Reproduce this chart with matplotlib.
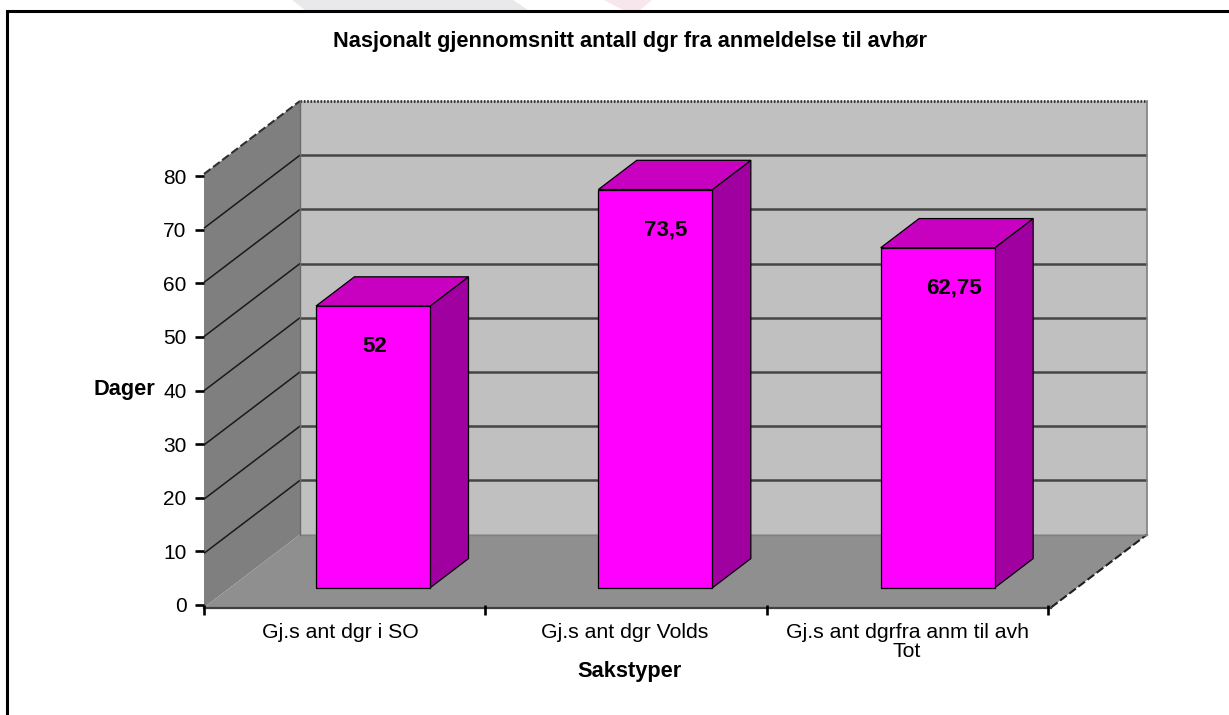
import matplotlib
matplotlib.use("Agg")
import matplotlib.pyplot as plt
from matplotlib.patches import Polygon
from matplotlib.lines import Line2D

plt.rcParams['font.family'] = ['Liberation Sans', 'DejaVu Sans']

title = "Nasjonalt gjennomsnitt antall dgr fra anmeldelse til avhør"
categories = ["Gj.s ant dgr i SO", "Gj.s ant dgr Volds", "Gj.s ant dgrfra anm til avh\nTot"]
values = [52, 73.5, 62.75]
yticks = [0, 10, 20, 30, 40, 50, 60, 70, 80]
ylabel = "Dager"
xlabel = "Sakstyper"

W, H = 1229, 715
# front plane of the fake 3d box in pixels
left, right, y0, y80 = 204, 1051, 607.5, 174
# depth of the box, in data units
depth_x = 96 / ((right - left) / 3)
depth_y = 73 / ((y0 - y80) / 80)
floor = 0
bar_width = 0.404
bar_shift = 0.007
bar_near, bar_far = 0.27, 0.67


def fx(px):
    return px / W


def fy(py):
    return 1 - py / H


def proj(x, v, d):
    # d = 0 at the front of the box, 1 at the back wall
    return (x + d * depth_x, v + floor + d * depth_y)


def face(ax, pts, color, z, edge="none", lw=0):
    ax.add_patch(Polygon(pts, closed=True, facecolor=color, edgecolor=edge, linewidth=lw,
                         zorder=z, clip_on=False, joinstyle="miter"))


fig = plt.figure(figsize=(W / 100, H / 100), dpi=100)

# pale shapes from the page behind the chart
fig.add_artist(Polygon([(fx(292), fy(0)), (fx(513), fy(0)), (fx(528), fy(10)), (fx(305), fy(10))],
                       closed=True, transform=fig.transFigure, facecolor="#e9e9eb", edgecolor="none"))
fig.add_artist(Polygon([(fx(604), fy(0)), (fx(652), fy(0)), (fx(640), fy(10)), (fx(623), fy(10))],
                       closed=True, transform=fig.transFigure, facecolor="#f7e6ec", edgecolor="none"))

# frame, only left and top
fig.add_artist(Line2D([fx(7), fx(7), fx(W)], [fy(H), fy(10.5), fy(10.5)], transform=fig.transFigure,
                      color="black", linewidth=2.2, solid_joinstyle="miter"))

ax = fig.add_axes([fx(left), fy(y0), fx(right - left), (y0 - y80) / H])
ax.set_xlim(0, 3)
ax.set_ylim(0, 80)
ax.patch.set_visible(False)

# walls and floor
top = yticks[-1]
face(ax, [proj(0, 0, 1), proj(3, 0, 1), proj(3, top, 1), proj(0, top, 1)], "#c0c0c0", 1)
face(ax, [proj(0, 0, 0), proj(0, 0, 1), proj(0, top, 1), proj(0, top, 0)], "#7f7f7f", 1)
face(ax, [proj(0, 0, 0), proj(3, 0, 0), proj(3, 0, 1), proj(0, 0, 1)], "#8f8f8f", 1)

# gridlines
for v in yticks[1:-1]:
    ax.plot(*zip(proj(0, v, 1), proj(3, v, 1)), color="#454545", lw=1.8, zorder=2, clip_on=False,
            solid_capstyle="butt")
    ax.plot(*zip(proj(0, v, 0), proj(0, v, 1)), color="#1a1a1a", lw=1.1, zorder=2, clip_on=False,
            solid_capstyle="butt")

# box edges
ax.plot(*zip(proj(0, top, 1), proj(3, top, 1)), color="#303030", lw=2, ls=(0, (0.6, 0.6)), zorder=2, clip_on=False)
ax.plot(*zip(proj(0, top, 0), proj(0, top, 1)), color="#303030", lw=1.5, ls=(0, (4, 1.5)), zorder=2, clip_on=False)
ax.plot(*zip(proj(3, 0, 0), proj(3, 0, 1)), color="#202020", lw=1.5, ls=(0, (4, 1.5)), zorder=2, clip_on=False)
ax.plot(*zip(proj(3, 0, 1), proj(3, top, 1)), color="#808080", lw=1.2, zorder=2, clip_on=False)
ax.plot(*zip(proj(0, 0, 1), proj(3, 0, 1)), color="#808080", lw=1, zorder=2, clip_on=False)
ax.plot(*zip(proj(0, 0, 1), proj(0, top, 1)), color="#6a6a6a", lw=1, zorder=2, clip_on=False)

# bars
for i, v in enumerate(values):
    xa = i + 0.5 + bar_shift - bar_width / 2
    xb = xa + bar_width
    face(ax, [proj(xb, 0, bar_near), proj(xb, 0, bar_far), proj(xb, v, bar_far), proj(xb, v, bar_near)],
         "#a000a0", 3, "black", 0.9)
    face(ax, [proj(xa, v, bar_near), proj(xb, v, bar_near), proj(xb, v, bar_far), proj(xa, v, bar_far)],
         "#c800c0", 3, "black", 0.9)
    face(ax, [proj(xa, 0, bar_near), proj(xb, 0, bar_near), proj(xb, v, bar_near), proj(xa, v, bar_near)],
         "#ff00ff", 4, "black", 0.9)
    lx, ly = proj(xa, v, bar_near)
    ax.annotate(str(v).replace(".", ","), xy=(lx, ly), xytext=(33, -29), textcoords="offset points",
                ha="left", va="center", fontsize=16, fontweight="bold", color="black", zorder=5)

# front floor line, ticks sit on their own axes because the original ticks do not line up with the box
for s in ["top", "right", "left"]:
    ax.spines[s].set_visible(False)
ax.spines["bottom"].set_position(("outward", 0.3))
ax.spines["bottom"].set_color("#404040")
ax.spines["bottom"].set_linewidth(1.6)
ax.spines["bottom"].set_zorder(3)
ax.set_xticks([])
ax.set_yticks([])

ax_t = fig.add_axes([fx(left), fy(605), fx(1048 - left), (605 - 176) / H])
ax_t.set_xlim(0, 3)
ax_t.set_ylim(0, 80)
ax_t.patch.set_visible(False)
for s in ax_t.spines.values():
    s.set_visible(False)
ax_t.set_yticks(yticks)
ax_t.tick_params(axis="y", length=6.5, width=1.9, pad=6, labelsize=15, color="black")
ax_t.set_xticks([0, 1, 2, 3])
ax_t.tick_params(axis="x", length=7.2, width=1.9, color="black", labelbottom=False)

cat_pixels = [340, 625, 907]
for name, cx in zip(categories, cat_pixels):
    fig.text(fx(cx), fy(623.5), name, ha="center", va="top", fontsize=15.3, linespacing=0.95)

fig.text(fx(630), fy(41), title, ha="center", va="center", fontsize=15.7, fontweight="bold")
fig.text(fx(124), fy(389), ylabel, ha="center", va="center", fontsize=15.7, fontweight="bold")
fig.text(fx(629), fy(672), xlabel, ha="center", va="center", fontsize=15.7, fontweight="bold")

fig.savefig("out.png", dpi=100)
plt.close("all")
